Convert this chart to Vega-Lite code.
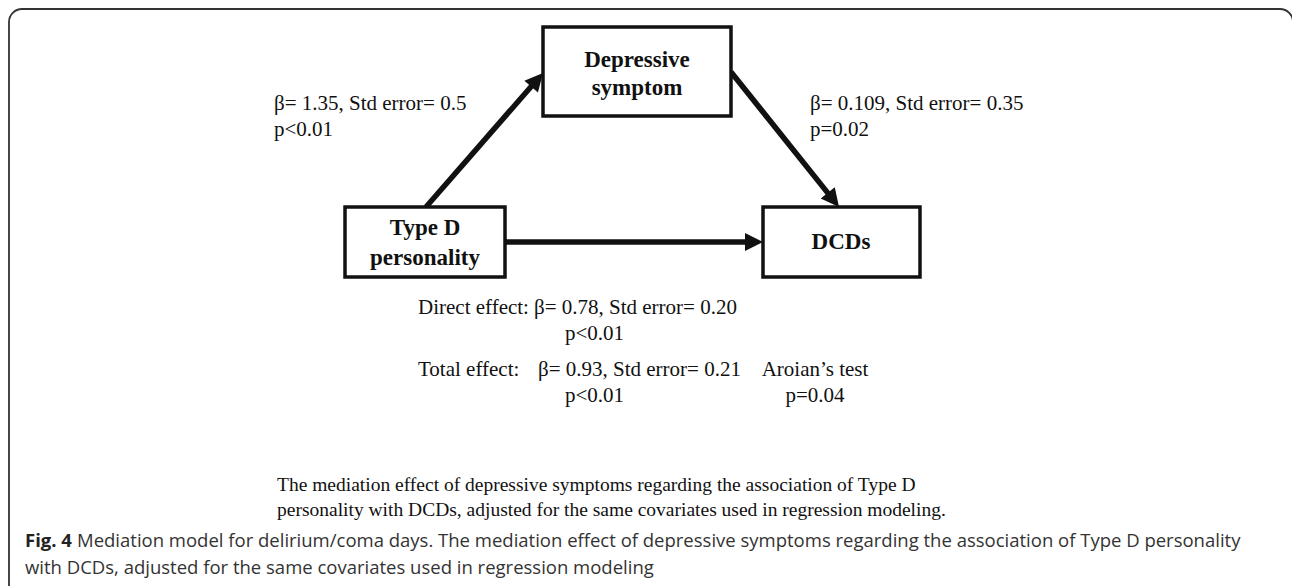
{
  "$schema": "https://vega.github.io/schema/vega-lite/v6.json",
  "width": 1292,
  "height": 586,
  "padding": 0,
  "autosize": {"type": "none"},
  "config": {"view": {"stroke": null}},
  "datasets": {
    "frame": [{"x": 9, "x2": 1293, "y": 9, "y2": 620}],
    "boxes": [
      {"node": "Depressive symptom", "x": 543, "x2": 731, "y": 27, "y2": 116},
      {"node": "Type D personality", "x": 345, "x2": 505, "y": 207, "y2": 277},
      {"node": "DCDs", "x": 763, "x2": 920, "y": 207, "y2": 277}
    ],
    "shafts": [
      {"edge": "TypeD->Dep", "x": 426, "y": 207, "x2": 533.8, "y2": 83.5},
      {"edge": "Dep->DCDs", "x": 731, "y": 72, "x2": 830.3, "y2": 196.1},
      {"edge": "TypeD->DCDs", "x": 505, "y": 242, "x2": 749, "y2": 242}
    ],
    "heads": [
      {"edge": "TypeD->Dep", "x": 543, "y": 73, "angle": 41.1},
      {"edge": "Dep->DCDs", "x": 839, "y": 207, "angle": 141.3},
      {"edge": "TypeD->DCDs", "x": 763, "y": 242, "angle": 90}
    ],
    "nodeLabels": [
      {"text": "Depressive", "x": 637, "y": 60},
      {"text": "symptom", "x": 637, "y": 88},
      {"text": "Type D", "x": 425, "y": 228},
      {"text": "personality", "x": 425, "y": 258},
      {"text": "DCDs", "x": 841, "y": 242}
    ],
    "notesLeft": [
      {"text": "β= 1.35, Std error= 0.5", "x": 274, "y": 104},
      {"text": "p<0.01", "x": 274, "y": 130},
      {"text": "β= 0.109, Std error= 0.35", "x": 810, "y": 104},
      {"text": "p=0.02", "x": 810, "y": 130},
      {"text": "Direct effect:", "x": 418, "y": 308},
      {"text": "β= 0.78, Std error= 0.20", "x": 534, "y": 308},
      {"text": "p<0.01", "x": 565, "y": 334},
      {"text": "Total effect:", "x": 418, "y": 370},
      {"text": "β= 0.93, Std error= 0.21", "x": 538, "y": 370},
      {"text": "p<0.01", "x": 565, "y": 396}
    ],
    "notesCenter": [
      {"text": "Aroian’s test", "x": 815, "y": 370},
      {"text": "p=0.04", "x": 815, "y": 396}
    ],
    "caption": [
      {"text": "The mediation effect of depressive symptoms regarding the association of Type D", "x": 277, "y": 485},
      {"text": "personality with DCDs, adjusted for the same covariates used in regression modeling.", "x": 277, "y": 510}
    ],
    "figBold": [{"text": "Fig. 4", "x": 25, "y": 541}],
    "figText": [
      {"text": "Mediation model for delirium/coma days. The mediation effect of depressive symptoms regarding the association of Type D personality", "x": 77, "y": 541},
      {"text": "with DCDs, adjusted for the same covariates used in regression modeling", "x": 25, "y": 568}
    ]
  },
  "layer": [
    {
      "data": {"name": "frame"},
      "mark": {"type": "rect", "fill": null, "stroke": "#333", "strokeWidth": 1.8, "cornerRadius": 13, "clip": true},
      "encoding": {
        "x": {"field": "x", "type": "quantitative", "scale": {"domain": [0, 1292], "nice": false, "zero": false}, "axis": null},
        "x2": {"field": "x2"},
        "y": {"field": "y", "type": "quantitative", "scale": {"domain": [0, 586], "nice": false, "zero": false, "reverse": true}, "axis": null},
        "y2": {"field": "y2"}
      }
    },
    {
      "data": {"name": "shafts"},
      "mark": {"type": "rule", "color": "#111", "strokeWidth": 5.5, "strokeCap": "butt"},
      "encoding": {
        "x": {"field": "x", "type": "quantitative", "axis": null},
        "y": {"field": "y", "type": "quantitative", "axis": null},
        "x2": {"field": "x2"},
        "y2": {"field": "y2"}
      }
    },
    {
      "data": {"name": "heads"},
      "mark": {"type": "point", "shape": "M0,0L0.5,1L-0.5,1Z", "filled": true, "color": "#111", "opacity": 1, "size": 1296, "strokeWidth": 0},
      "encoding": {
        "x": {"field": "x", "type": "quantitative", "axis": null},
        "y": {"field": "y", "type": "quantitative", "axis": null},
        "angle": {"field": "angle", "type": "quantitative", "scale": null}
      }
    },
    {
      "data": {"name": "boxes"},
      "mark": {"type": "rect", "fill": "white", "stroke": "#111", "strokeWidth": 3.5},
      "encoding": {
        "x": {"field": "x", "type": "quantitative", "axis": null},
        "x2": {"field": "x2"},
        "y": {"field": "y", "type": "quantitative", "axis": null},
        "y2": {"field": "y2"}
      }
    },
    {
      "data": {"name": "nodeLabels"},
      "mark": {"type": "text", "font": "Liberation Serif", "fontSize": 23, "fontWeight": "bold", "align": "center", "baseline": "middle", "color": "#111"},
      "encoding": {
        "x": {"field": "x", "type": "quantitative", "axis": null},
        "y": {"field": "y", "type": "quantitative", "axis": null},
        "text": {"field": "text"}
      }
    },
    {
      "data": {"name": "notesLeft"},
      "mark": {"type": "text", "font": "Liberation Serif", "fontSize": 21, "align": "left", "baseline": "middle", "color": "#111"},
      "encoding": {
        "x": {"field": "x", "type": "quantitative", "axis": null},
        "y": {"field": "y", "type": "quantitative", "axis": null},
        "text": {"field": "text"}
      }
    },
    {
      "data": {"name": "notesCenter"},
      "mark": {"type": "text", "font": "Liberation Serif", "fontSize": 21, "align": "center", "baseline": "middle", "color": "#111"},
      "encoding": {
        "x": {"field": "x", "type": "quantitative", "axis": null},
        "y": {"field": "y", "type": "quantitative", "axis": null},
        "text": {"field": "text"}
      }
    },
    {
      "data": {"name": "caption"},
      "mark": {"type": "text", "font": "Liberation Serif", "fontSize": 19.5, "align": "left", "baseline": "middle", "color": "#111"},
      "encoding": {
        "x": {"field": "x", "type": "quantitative", "axis": null},
        "y": {"field": "y", "type": "quantitative", "axis": null},
        "text": {"field": "text"}
      }
    },
    {
      "data": {"name": "figBold"},
      "mark": {"type": "text", "font": "Open Sans", "fontSize": 18.5, "fontWeight": "bold", "align": "left", "baseline": "middle", "color": "#222"},
      "encoding": {
        "x": {"field": "x", "type": "quantitative", "axis": null},
        "y": {"field": "y", "type": "quantitative", "axis": null},
        "text": {"field": "text"}
      }
    },
    {
      "data": {"name": "figText"},
      "mark": {"type": "text", "font": "Open Sans", "fontSize": 18.5, "align": "left", "baseline": "middle", "color": "#333"},
      "encoding": {
        "x": {"field": "x", "type": "quantitative", "axis": null},
        "y": {"field": "y", "type": "quantitative", "axis": null},
        "text": {"field": "text"}
      }
    }
  ]
}
